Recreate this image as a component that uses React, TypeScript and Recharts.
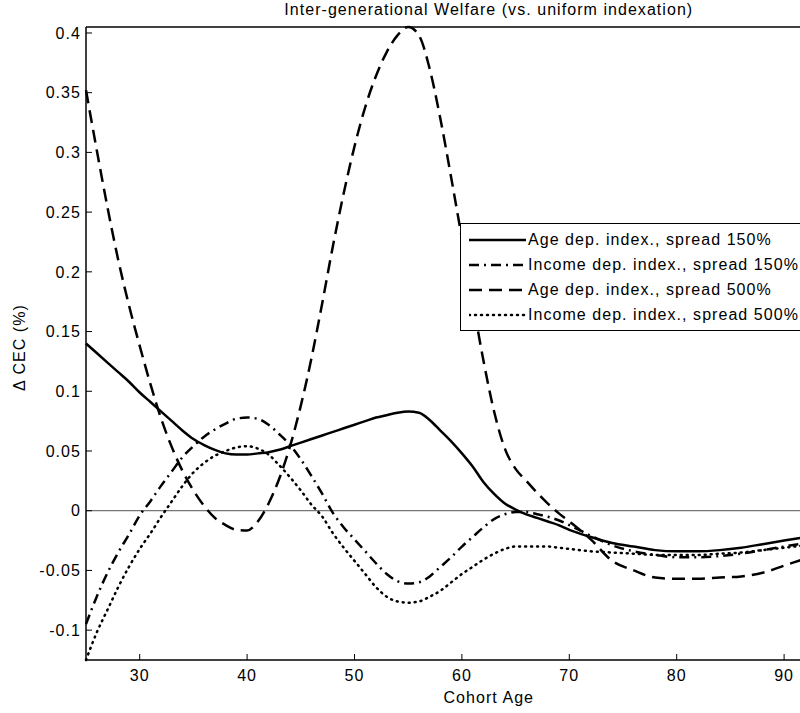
import React from 'react';
import { LineChart, Line, XAxis, YAxis, ReferenceLine, Legend } from 'recharts';

const ages = [25, 26, 27, 28, 29, 30, 31, 32, 33, 34, 35, 36, 37, 38, 39, 40, 41, 42, 43, 44, 45, 46, 47, 48, 49, 50, 51, 52, 53, 54, 55, 56, 57, 58, 59, 60, 61, 62, 63, 64, 65, 66, 67, 68, 69, 70, 72, 74, 76, 78, 80, 82, 84, 86, 88, 90, 92];

const age150 = [0.140, 0.132, 0.124, 0.116, 0.108, 0.099, 0.091, 0.083, 0.075, 0.067, 0.060, 0.055, 0.051, 0.048, 0.047, 0.047, 0.048, 0.049, 0.051, 0.054, 0.057, 0.060, 0.063, 0.066, 0.069, 0.072, 0.075, 0.078, 0.080, 0.082, 0.083, 0.082, 0.076, 0.067, 0.058, 0.048, 0.037, 0.024, 0.014, 0.006, 0.001, -0.003, -0.006, -0.009, -0.012, -0.016, -0.022, -0.027, -0.030, -0.033, -0.034, -0.034, -0.033, -0.031, -0.028, -0.025, -0.022];

const inc150 = [-0.095, -0.072, -0.052, -0.035, -0.020, -0.004, 0.008, 0.021, 0.033, 0.045, 0.054, 0.062, 0.068, 0.073, 0.077, 0.078, 0.077, 0.072, 0.064, 0.055, 0.043, 0.029, 0.014, -0.002, -0.014, -0.024, -0.034, -0.044, -0.053, -0.059, -0.061, -0.060, -0.055, -0.047, -0.039, -0.030, -0.022, -0.014, -0.007, -0.003, -0.001, -0.001, -0.003, -0.005, -0.008, -0.012, -0.021, -0.029, -0.034, -0.037, -0.039, -0.039, -0.038, -0.036, -0.033, -0.030, -0.027];

const age500 = [0.352, 0.302, 0.254, 0.210, 0.172, 0.138, 0.106, 0.077, 0.053, 0.033, 0.017, 0.004, -0.006, -0.012, -0.016, -0.0165, -0.009, 0.006, 0.027, 0.054, 0.088, 0.128, 0.174, 0.222, 0.266, 0.305, 0.338, 0.364, 0.384, 0.398, 0.405, 0.398, 0.370, 0.328, 0.279, 0.228, 0.176, 0.126, 0.083, 0.052, 0.035, 0.025, 0.015, 0.006, -0.002, -0.009, -0.024, -0.042, -0.050, -0.056, -0.057, -0.057, -0.056, -0.055, -0.052, -0.046, -0.040];

const inc500 = [-0.125, -0.102, -0.083, -0.064, -0.047, -0.032, -0.019, -0.005, 0.008, 0.021, 0.032, 0.040, 0.046, 0.050, 0.053, 0.054, 0.052, 0.047, 0.038, 0.028, 0.017, 0.005, -0.005, -0.019, -0.031, -0.042, -0.053, -0.064, -0.072, -0.076, -0.077, -0.076, -0.072, -0.067, -0.060, -0.053, -0.047, -0.041, -0.036, -0.032, -0.030, -0.030, -0.030, -0.030, -0.031, -0.032, -0.034, -0.035, -0.036, -0.037, -0.037, -0.037, -0.036, -0.035, -0.033, -0.031, -0.029];

const xTicks = [30, 40, 50, 60, 70, 80, 90];
const yTicks = [-0.1, -0.05, 0, 0.05, 0.1, 0.15, 0.2, 0.25, 0.3, 0.35, 0.4];

const title = 'Inter-generational Welfare (vs. uniform indexation)';
const xLabel = 'Cohort Age';
const yLabel = 'Δ CEC (%)';

const seriesDefs = [
  { key: 'age150', name: 'Age dep. index., spread 150%', dash: undefined as string | undefined, cap: 'butt' },
  { key: 'inc150', name: 'Income dep. index., spread 150%', dash: '10 5 2 5', cap: 'butt' },
  { key: 'age500', name: 'Age dep. index., spread 500%', dash: '13 7', cap: 'butt' },
  { key: 'inc500', name: 'Income dep. index., spread 500%', dash: '1 5', cap: 'round' },
];

const data = ages.map((a, i) => ({
  age: a,
  age150: age150[i],
  inc150: inc150[i],
  age500: age500[i],
  inc500: inc500[i],
}));

const FONT = '"Liberation Sans", Arial, Helvetica, sans-serif';
const FS = 16;
const LS = 1.05;

const fmt = (v: number) => String(Number(v.toFixed(2)));

const LegendBox = () => (
  <div
    style={{
      border: '1px solid #000',
      background: '#fff',
      padding: '3px 8px 3px 8px',
      fontFamily: FONT,
      fontSize: FS,
      letterSpacing: LS,
      color: '#000',
      width: 420,
      boxSizing: 'border-box',
    }}
  >
    {seriesDefs.map((s) => (
      <div key={s.key} style={{ display: 'flex', alignItems: 'center', height: 25 }}>
        <svg width={57} height={10} style={{ marginRight: 2, flex: 'none' }}>
          <line x1={0} x2={57} y1={5} y2={5} stroke="#000" strokeWidth={2.5} strokeDasharray={s.dash} strokeLinecap={s.cap as any} />
        </svg>
        <span style={{ whiteSpace: 'nowrap' }}>{s.name}</span>
      </div>
    ))}
  </div>
);

const YLabelContent = (props: any) => {
  const vb = props.viewBox || { y: 27, height: 633 };
  const cy = vb.y + vb.height / 2 + 4;
  const cx = 19;
  return (
    <text
      x={cx}
      y={cy}
      transform={`rotate(-90, ${cx}, ${cy})`}
      textAnchor="middle"
      dominantBaseline="central"
      fontFamily={FONT}
      fontSize={FS}
      letterSpacing={LS}
      fill="#000"
    >
      {yLabel}
    </text>
  );
};

const tickStyle = { fill: '#000', fontSize: FS, fontFamily: FONT, letterSpacing: LS };

export default function App() {
  return (
    <div style={{ position: 'absolute', left: 0, top: 0, width: 800, height: 713, overflow: 'hidden', background: '#fff' }}>
      <LineChart width={900} height={713} data={data} margin={{ top: 26, right: 8.5, bottom: 23, left: 0 }}>
        <XAxis
          dataKey="age"
          type="number"
          domain={[25, 100]}
          ticks={xTicks}
          interval={0}
          height={30}
          tickSize={-6}
          tickMargin={16}
          axisLine={{ stroke: '#000', strokeWidth: 1.5 }}
          tickLine={{ stroke: '#000', strokeWidth: 1 }}
          tick={tickStyle}
          label={{ value: xLabel, position: 'bottom', offset: 2, fill: '#000', fontSize: FS, fontFamily: FONT, letterSpacing: LS }}
        />
        <XAxis
          xAxisId="top"
          orientation="top"
          dataKey="age"
          type="number"
          domain={[25, 100]}
          ticks={xTicks}
          interval={0}
          height={1}
          tickSize={-6}
          tick={false}
          axisLine={{ stroke: '#000', strokeWidth: 1.5 }}
          tickLine={{ stroke: '#000', strokeWidth: 1 }}
          label={{ value: title, position: 'top', offset: 11, fill: '#000', fontSize: FS, fontFamily: FONT, letterSpacing: LS }}
        />
        <YAxis
          type="number"
          domain={[-0.125, 0.405]}
          ticks={yTicks}
          interval={0}
          width={86}
          tickSize={-6}
          tickMargin={11}
          tickFormatter={fmt}
          axisLine={{ stroke: '#000', strokeWidth: 1.5 }}
          tickLine={{ stroke: '#000', strokeWidth: 1 }}
          tick={tickStyle}
          label={<YLabelContent />}
        />
        <ReferenceLine y={0} stroke="#555" strokeWidth={1} />
        {seriesDefs.map((s) => (
          <Line
            key={s.key}
            dataKey={s.key}
            name={s.name}
            type="monotone"
            stroke="#000"
            strokeWidth={2.5}
            strokeDasharray={s.dash}
            strokeLinecap={s.cap as any}
            dot={false}
            activeDot={false}
            isAnimationActive={false}
          />
        ))}
        <Legend
          layout="vertical"
          align="center"
          verticalAlign="middle"
          content={<LegendBox />}
          wrapperStyle={{ left: 460, top: 223 }}
        />
      </LineChart>
    </div>
  );
}
